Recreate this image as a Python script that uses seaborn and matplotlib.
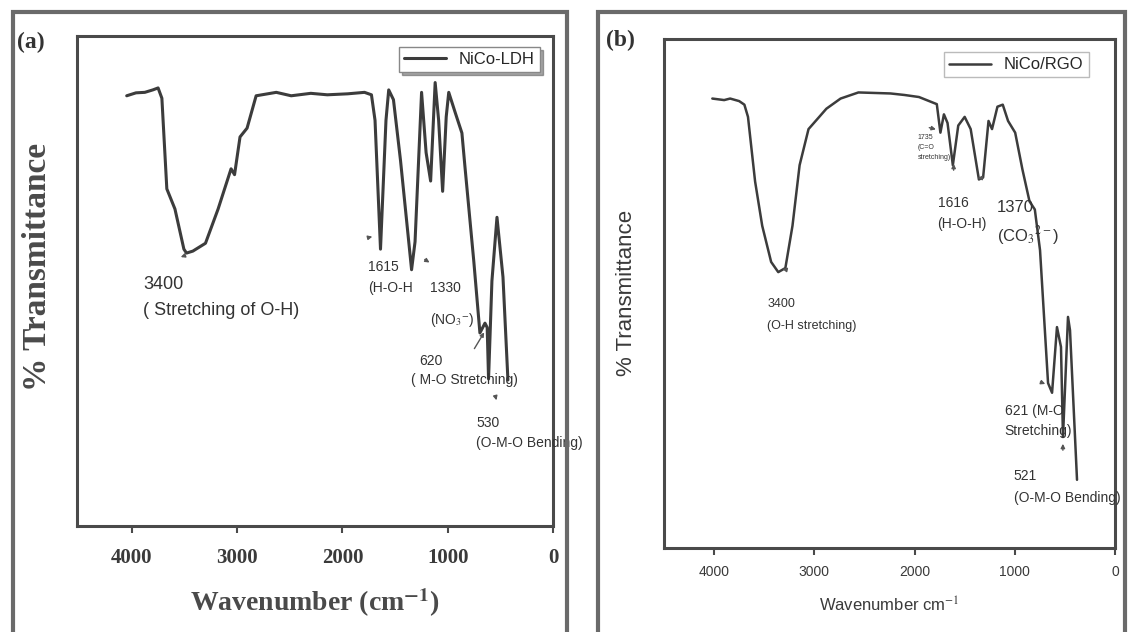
import numpy as np
import pandas as pd
import matplotlib
matplotlib.use("Agg")
import matplotlib.pyplot as plt
from matplotlib.patches import Rectangle
import seaborn as sns

sns.set_theme(style="white")
plt.rcParams['font.family'] = ['Liberation Sans', 'DejaVu Sans']
plt.rcParams['mathtext.fontset'] = 'stix'

# ---- Panel (a): NiCo-LDH ----
wn_a = [4048, 3960, 3876, 3800, 3750, 3714, 3667, 3590, 3505, 3480, 3420, 3300, 3180, 3057, 3024,
        2972, 2905, 2819, 2628, 2486, 2300, 2143, 1950, 1790, 1724, 1690, 1638, 1586, 1560, 1515,
        1448, 1343, 1310, 1248, 1205, 1162, 1119, 1086, 1048, 1014, 990, 929, 865, 836, 752,
        694, 646, 625, 612, 580, 532, 475, 428]
tr_a = [87.8, 88.4, 88.5, 89.0, 89.4, 87.3, 68.8, 64.7, 56.5, 55.7, 56.1, 57.7, 64.7, 72.9, 71.7,
        79.4, 81.2, 87.8, 88.5, 87.8, 88.3, 88.0, 88.2, 88.5, 88.0, 82.8, 56.5, 82.8, 89.0, 87.0,
        74.6, 52.3, 58.0, 88.5, 76.2, 70.4, 90.5, 82.8, 68.3, 83.5, 88.5, 84.4, 80.2, 73.3, 54.0,
        39.4, 41.4, 40.5, 30.0, 50.0, 63.0, 50.8, 29.8]

# ---- Panel (b): NiCo/RGO ----
wn_b = [4018, 3900, 3840, 3750, 3698, 3662, 3591, 3520, 3431, 3360, 3289, 3218, 3147, 3058, 2951,
        2880, 2738, 2560, 2400, 2240, 2100, 1956, 1778, 1742, 1707, 1671, 1618, 1564, 1500, 1440,
        1358, 1316, 1262, 1227, 1173, 1120, 1067, 996, 924, 853, 800, 748, 668, 628, 579,
        539, 519, 469, 449, 379]
tr_b = [88.3, 88.0, 88.3, 87.8, 87.1, 84.7, 72.0, 63.3, 56.2, 54.2, 55.0, 63.3, 75.2, 82.3, 84.7,
        86.3, 88.3, 89.5, 89.4, 89.3, 89.0, 88.6, 87.2, 81.6, 85.2, 83.5, 75.2, 83.0, 84.7, 82.3,
        72.4, 72.8, 83.9, 82.3, 86.7, 87.1, 83.9, 81.6, 74.4, 68.1, 66.5, 58.5, 32.4, 30.5, 43.4,
        39.5, 21.8, 45.4, 42.8, 13.4]

xticks = [4000, 3000, 2000, 1000, 0]
xtick_labels = ["4000", "3000", "2000", "1000", "0"]

df_a = pd.DataFrame({"wn": wn_a, "tr": tr_a})
df_b = pd.DataFrame({"wn": wn_b, "tr": tr_b})

W, H = 1129, 632
fig = plt.figure(figsize=(W / 100, H / 100), dpi=100)
fig.patch.set_facecolor("white")

def fx(px):
    return px / W

def fy(py):
    return 1 - py / H

# outer panel frames
for (x0, x1) in [(13, 567), (598, 1125)]:
    fig.add_artist(Rectangle((fx(x0), fy(640)), fx(x1) - fx(x0), fy(12) - fy(640),
                             transform=fig.transFigure, fill=False, edgecolor="#6a6a6a", lw=3))

A_T, A_B = 36, 526
B_T, B_B = 39, 548
ax_a = fig.add_axes([fx(77), fy(A_B), fx(553) - fx(77), fy(A_T) - fy(A_B)])
ax_b = fig.add_axes([fx(664), fy(B_B), fx(1115) - fx(664), fy(B_T) - fy(B_B)])

line_col = "#3c3c3c"
sns.lineplot(data=df_a, x="wn", y="tr", sort=False, estimator=None, ax=ax_a,
             color=line_col, lw=2.2, label="NiCo-LDH")
sns.lineplot(data=df_b, x="wn", y="tr", sort=False, estimator=None, ax=ax_b,
             color=line_col, lw=1.8, label="NiCo/RGO")

serif = ['Liberation Serif', 'DejaVu Serif']
for ax in (ax_a, ax_b):
    ax.set_ylim(0, 100)
    ax.set_yticks([])
    ax.set_xticks(xticks)
    for s in ax.spines.values():
        s.set_color("#4a4a4a")
        s.set_linewidth(2.2)
    ax.tick_params(axis="x", direction="out", length=5, width=1.5, color="#4a4a4a", bottom=True)

ax_a.set_xlim(4520, 0)
ax_b.set_xlim(4500, 0)

# panel (a) text styles
ax_a.tick_params(axis="x", pad=11)
ax_a.set_xticklabels(xtick_labels, family=serif, fontweight="bold", fontsize=15, color="#3a3a3a")
ax_a.set_xlabel("Wavenumber (cm$^{\\mathbf{-1}}$)", family=serif, fontweight="bold", fontsize=20,
                color="#4a4a4a", va="center")
ax_a.xaxis.set_label_coords(0.5, (A_B - 603) / (A_B - A_T))
ax_a.set_ylabel("")
fig.text(fx(38), fy(267), "% Transmittance", family=serif, fontweight="bold", fontsize=24,
         color="#4a4a4a", rotation=90, ha="center", va="center")

ax_b.tick_params(axis="x", pad=7)
ax_b.set_xticklabels(xtick_labels, fontsize=10, color="#3a3a3a")
ax_b.set_xlabel("Wavenumber cm$^{-1}$", fontsize=12, color="#3a3a3a", va="center")
ax_b.xaxis.set_label_coords(0.5, (B_B - 605) / (B_B - B_T))
ax_b.set_ylabel("")
fig.text(fx(627), fy(293), "% Transmittance", fontsize=16, color="#3a3a3a", rotation=90,
         ha="center", va="center")

# legends
leg_a = ax_a.legend(loc="upper right", frameon=True, fontsize=12, handlelength=2.5,
                    borderpad=0.3, fancybox=False, shadow=True, bbox_to_anchor=(0.99, 0.995))
leg_a.get_frame().set_edgecolor("#888888")
leg_b = ax_b.legend(loc="upper right", frameon=True, fontsize=12, handlelength=2.5,
                    borderpad=0.3, fancybox=False, bbox_to_anchor=(0.96, 0.99))
leg_b.get_frame().set_edgecolor("#aaaaaa")

tc = "#333333"
def ty(py, top, bot):
    return (bot - py) / (bot - top) * 100

# panel (a) annotations (x in data units, y converted from pixel rows)
def txa(wn, py, s, fs, **kw):
    ax_a.text(wn, ty(py, A_T, A_B), s, fontsize=fs, color=tc, va="top", ha="left", **kw)

txa(3890, 276, "3400", 13)
txa(3890, 302, "( Stretching of O-H)", 13)
txa(1760, 260, "1615", 10)
txa(1760, 281, "(H-O-H", 10)
txa(1170, 281, "1330", 10)
txa(1170, 311, "(NO$_3$$^{-}$)", 10)
txa(1270, 354, "620", 10)
txa(1350, 373, "( M-O Stretching)", 10)
txa(730, 416, "530", 10)
txa(730, 436, "(O-M-O Bending)", 10)

arr = dict(arrowstyle="-|>", color="#555555", lw=1, mutation_scale=6)
def ara(x1, y1, x0, y0):
    ax_a.annotate("", xy=(x1, ty(y1, A_T, A_B)), xytext=(x0, ty(y0, A_T, A_B)), arrowprops=arr)

ara(3560, 258, 3480, 255)
ara(1690, 236, 1770, 238)
ara(1150, 264, 1240, 258)
ara(640, 330, 760, 351)
ara(530, 403, 550, 395)

# panel (b) annotations
def txb(wn, py, s, fs, **kw):
    ax_b.text(wn, ty(py, B_T, B_B), s, fontsize=fs, color=tc, va="top", ha="left", **kw)

txb(3470, 298, "3400", 9)
txb(3470, 320, "(O-H stretching)", 9)
txb(1970, 134, "1735\n(C=O\nstretching)", 5, linespacing=1.6)
txb(1770, 196, "1616", 10)
txb(1770, 217, "(H-O-H)", 10)
txb(1180, 200, "1370", 12)
txb(1180, 224, "(CO$_3$$^{2-}$)", 12)
txb(1100, 404, "621 (M-O", 10)
txb(1100, 424, "Stretching)", 10)
txb(1010, 469, "521", 10)
txb(1010, 491, "(O-M-O Bending)", 10)

def arb(x1, y1, x0, y0):
    ax_b.annotate("", xy=(x1, ty(y1, B_T, B_B)), xytext=(x0, ty(y0, B_T, B_B)), arrowprops=arr)

arb(1760, 130, 1880, 127)
arb(1610, 161, 1610, 173)
arb(1400, 178, 1290, 178)
arb(3320, 269, 3270, 270)
arb(670, 385, 770, 381)
arb(520, 441, 520, 453)

# panel letters
fig.text(fx(17), fy(32), "(a)", family=serif, fontweight="bold", fontsize=17, color="#333333",
         va="top", ha="left")
fig.text(fx(606), fy(30), "(b)", family=serif, fontweight="bold", fontsize=17, color="#333333",
         va="top", ha="left")

fig.savefig("out.png", dpi=100, facecolor="white")
